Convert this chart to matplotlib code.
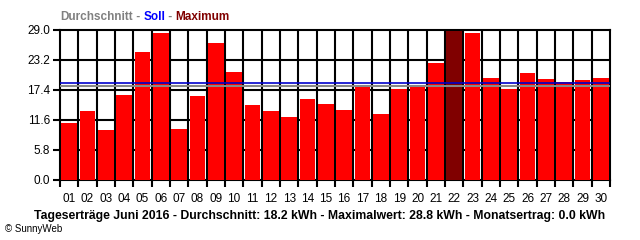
import matplotlib
matplotlib.use("Agg")
import matplotlib.pyplot as plt
import numpy as np

days = ["%02d" % d for d in range(1, 31)]
ertrag = [11.1, 13.4, 9.7, 16.5, 24.8, 28.5, 9.9, 16.3, 26.4, 20.9,
          14.5, 13.4, 12.2, 15.6, 14.7, 13.6, 17.9, 12.8, 17.6, 17.9,
          22.7, 28.8, 28.5, 19.8, 17.6, 20.7, 19.6, 19.0, 19.4, 19.8]
durchschnitt = 18.2
soll = 18.7
yticks = [0.0, 5.8, 11.6, 17.4, 23.2, 29.0]
titel = "Tageserträge Juni 2016 - Durchschnitt: 18.2 kWh - Maximalwert: 28.8 kWh - Monatsertrag: 0.0 kWh"

plt.rcParams['font.family'] = ['Liberation Sans', 'DejaVu Sans']

fig = plt.figure(figsize=(6.4, 2.4), dpi=100)
ax = fig.add_axes([60/640, 60/240, 550/640, 150/240])

x = np.arange(len(days))
imax = int(np.argmax(ertrag))
farben = ['#ff0000'] * len(days)
farben[imax] = '#800000'
ax.bar(x, ertrag, width=0.84, color=farben, zorder=3)

ax.set_xlim(-0.5, len(days) - 0.5)
ax.set_ylim(0, 29.0)

# Gitter: Tagesgrenzen und y-Ticks
for b in np.arange(0.5, len(days) - 0.5, 1):
    ax.axvline(b, color='black', lw=1.5, zorder=2)
for yt in yticks[1:-1]:
    ax.axhline(yt, color='black', lw=1.5, zorder=2)

ax.axhline(soll, color='#0000cc', lw=1.2, zorder=4)
ax.axhline(durchschnitt, color='#888888', lw=1.5, zorder=4)

ax.set_yticks(yticks)
ax.set_yticklabels(["%.1f" % v for v in yticks], fontsize=8.5)
ax.set_xticks(x)
ax.set_xticklabels(days, fontsize=8.5)
ax.tick_params(axis='x', length=0, pad=9)
ax.tick_params(axis='y', length=5, width=1.5, pad=2)
ax.set_xticks(np.arange(-0.5, len(days), 1), minor=True)
ax.tick_params(axis='x', which='minor', length=5, width=1.5)

for s in ax.spines.values():
    s.set_linewidth(1.5)

# farbige Legende oben
fig.canvas.draw()
r = fig.canvas.get_renderer()
teile = [("Durchschnitt", '#808080'), (" - ", '#808080'), ("Soll", '#0000ff'),
         (" - ", '#808080'), ("Maximum", '#800000')]
xpos = 60
for t, c in teile:
    txt = fig.text(xpos / 640, 1 - 17 / 240, t, color=c, fontsize=8.5,
                   fontweight='bold', va='center', ha='left')
    bb = txt.get_window_extent(renderer=r)
    xpos += bb.width

fig.text(320 / 640, 1 - 216 / 240, titel, fontsize=8.8, fontweight='bold',
         ha='center', va='center')
fig.text(5 / 640, 1 - 229 / 240, "© SunnyWeb", fontsize=7, ha='left', va='center')

fig.savefig("out.png", dpi=100)
